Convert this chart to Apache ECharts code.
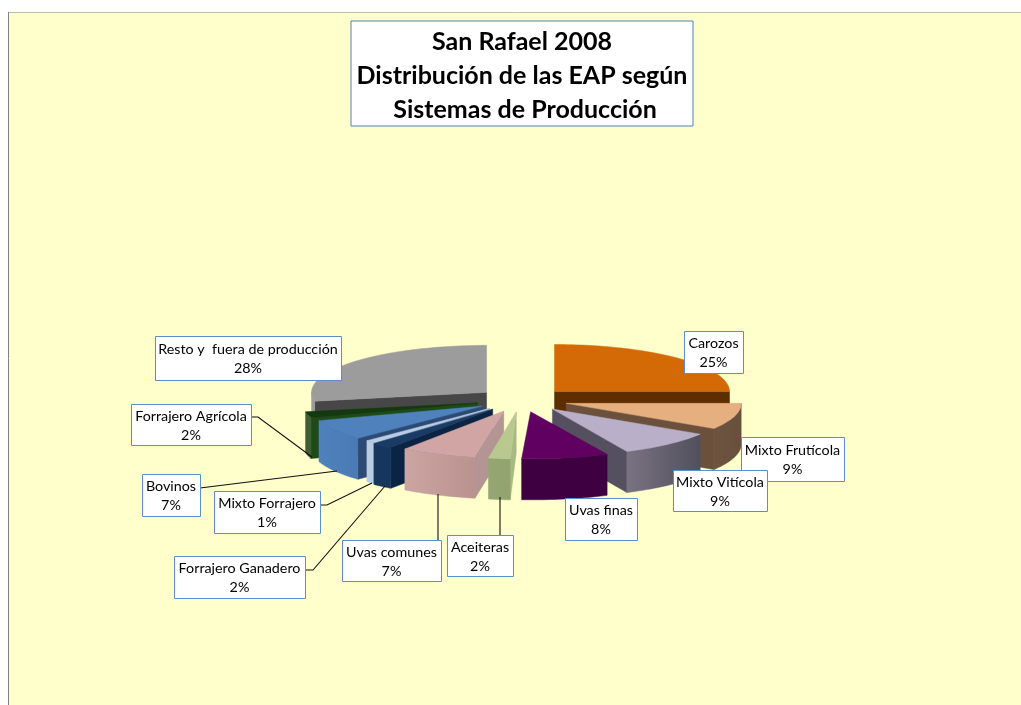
<!DOCTYPE html>
<html>
<head>
<meta charset="utf-8">
<title>San Rafael 2008</title>
<style>
html, body { margin: 0; padding: 0; background: #fff; }
#chart { width: 1021px; height: 705px; }
</style>
<script src="https://cdn.jsdelivr.net/npm/echarts@6/dist/echarts.min.js"></script>
</head>
<body>
<div id="chart"></div>
<script>
var titleLines = ['San Rafael 2008', 'Distribución de las EAP según', ' Sistemas de Producción'];

// clockwise from twelve o'clock
var categories = ['Carozos', 'Mixto Frutícola', 'Mixto Vitícola', 'Uvas finas', 'Aceiteras', 'Uvas comunes',
	'Forrajero Ganadero', 'Mixto Forrajero', 'Bovinos', 'Forrajero Agrícola', 'Resto y  fuera de producción'];
var values = [25, 9, 9, 8, 2, 7, 2, 1, 7, 2, 28];

var topColors = ['#D46A06', '#E6AF7F', '#B9AFC9', '#600060', '#B8C88F', '#D0A5A3', '#1A3B66', '#B8CCE4', '#4F81BD', '#14380F', '#9C9C9C'];
var wallLeft = ['#5F2E00', '#6E5440', '#7A7282', '#3E0040', '#95A673', '#CBA5A2', '#17365D', '#B8CCE4', '#4F81BD', '#3F5E36', '#9C9C9C'];
var wallRight = ['#5F2E00', '#66503C', '#50505C', '#3E0040', '#93A370', '#BA9390', '#17365D', '#B8CCE4', '#4A7AB4', '#3F5E36', '#9C9C9C'];
var cutColors = ['#5F2E00', '#6B503C', '#55505F', '#3E0040', '#A8B882', '#B39593', '#0C2444', '#8C9DB5', '#2C4A73', '#1E4A18', '#474747'];

// label boxes [left, top, right, bottom], same order as categories
var boxes = [[684, 331, 743, 373], [741, 437, 844, 481], [673, 470, 767, 511], [565, 498, 637, 540],
	[447, 535, 513, 576], [342, 540, 441, 581], [174, 556, 305, 598], [214, 491, 320, 533],
	[142, 474, 200, 516], [131, 404, 251, 445], [155, 336, 341, 380]];
var leaders = [null, null, null, null,
	[[500, 535], [500, 497]],
	[[438, 540], [438, 494]],
	[[305, 570], [313, 570], [385, 486]],
	[[320, 505], [327, 505], [372, 483]],
	[[200, 488], [337, 471]],
	[[251, 417], [258, 417], [312, 457]],
	null];
// the source view has a bit of perspective, rims of the front left slices sit further right
var rimShift = [0, 0, 0, 2, 5, 4, 1, 5, 3, 0, 0];

var CX = 522, CY = 400, RX = 175, RY = 47, EX = 46, EY = 12, DEPTH = 41;

var total = values.reduce(function (a, b) { return a + b; }, 0);
var starts = [], acc = 0;
values.forEach(function (v) { starts.push(acc / total * 360); acc += v; });

function rad(d) { return d * Math.PI / 180; }

function sliceShapes(i) {
	var a0 = starts[i], a1 = a0 + values[i] / total * 360, mid = (a0 + a1) / 2;
	var tip = [CX + EX * Math.sin(rad(mid)), CY - EY * Math.cos(rad(mid))];
	function rim(d, down) {
		return [tip[0] + rimShift[i] + RX * Math.sin(rad(d)), tip[1] - RY * Math.cos(rad(d)) + (down ? DEPTH : 0)];
	}
	function wall(d) {
		return [tip, rim(d), rim(d, true), [tip[0], tip[1] + DEPTH]];
	}
	var children = [];
	function add(points, fill) {
		children.push({ type: 'polygon', shape: { points: points }, style: { fill: fill, stroke: fill, lineWidth: 0.5 } });
	}
	if (Math.sin(rad(a1)) > 0.001) add(wall(a1), cutColors[i]);
	if (Math.sin(rad(a0)) < -0.001) add(wall(a0), cutColors[i]);
	var w0 = Math.max(a0, 90), w1 = Math.min(a1, 270);
	if (w1 > w0) {
		var up = [], low = [];
		for (var d = w0; d < w1; d += 1.5) { up.push(rim(d)); low.unshift(rim(d, true)); }
		up.push(rim(w1)); low.unshift(rim(w1, true));
		add(up.concat(low), new echarts.graphic.LinearGradient(0, 0, 1, 0, [
			{ offset: 0, color: wallLeft[i] }, { offset: 1, color: wallRight[i] }
		]));
	}
	var face = [tip];
	for (var t = a0; t < a1; t += 1.5) face.push(rim(t));
	face.push(rim(a1));
	add(face, topColors[i]);
	return children;
}

// back slices first so the nearer ones cover them
var drawOrder = values.map(function (v, i) { return i; }).sort(function (p, q) {
	var mp = starts[p] + values[p] / total * 180, mq = starts[q] + values[q] / total * 180;
	return Math.cos(rad(mq)) - Math.cos(rad(mp));
});

var graphics = [
	{ type: 'rect', silent: true, z: 0, shape: { x: 8, y: 12, width: 1013, height: 693 }, style: { fill: '#FFFFCC' } },
	{ type: 'line', silent: true, z: 0, shape: { x1: 8, y1: 12.5, x2: 1021, y2: 12.5 }, style: { stroke: '#BFBFB0', lineWidth: 1 } },
	{ type: 'line', silent: true, z: 0, shape: { x1: 8.5, y1: 12, x2: 8.5, y2: 705 }, style: { stroke: '#808080', lineWidth: 1 } },
	{ type: 'rect', silent: true, z: 5, shape: { x: 351, y: 21, width: 342, height: 105 }, style: { fill: '#fff', stroke: '#4F81BD', lineWidth: 1 } }
];
var titleY = [42, 76, 110];
titleLines.forEach(function (t, i) {
	graphics.push({ type: 'text', silent: true, z: 6, x: 522, y: titleY[i], style: {
		text: t, font: 'bold 25px Lato', fill: '#000', align: 'center', verticalAlign: 'middle'
	} });
});
leaders.forEach(function (pts) {
	if (pts) graphics.push({ type: 'polyline', silent: true, z: 5, shape: { points: pts }, style: { fill: 'none', stroke: '#111', lineWidth: 1.1 } });
});
boxes.forEach(function (b, i) {
	var mx = (b[0] + b[2]) / 2;
	graphics.push({ type: 'rect', silent: true, z: 5, shape: { x: b[0] + 0.5, y: b[1] + 0.5, width: b[2] - b[0], height: b[3] - b[1] },
		style: { fill: '#fff', stroke: '#5B8FCB', lineWidth: 1 } });
	graphics.push({ type: 'text', silent: true, z: 6, x: mx, y: (b[1] + b[3]) / 2 - 8.5, style: {
		text: categories[i], font: '14.3px Lato', fill: '#000', align: 'center', verticalAlign: 'middle' } });
	graphics.push({ type: 'text', silent: true, z: 6, x: mx, y: (b[1] + b[3]) / 2 + 10.5, style: {
		text: values[i] + '%', font: '14.3px Lato', fill: '#000', align: 'center', verticalAlign: 'middle' } });
});

var myChart = echarts.init(document.getElementById('chart'), null, { renderer: 'canvas' });
myChart.setOption({
	animation: false,
	backgroundColor: '#fff',
	graphic: graphics,
	series: [{
		type: 'custom',
		coordinateSystem: 'none',
		silent: true,
		z: 3,
		data: drawOrder.map(function (i) { return { name: categories[i], value: [i, values[i]] }; }),
		renderItem: function (params, api) {
			return { type: 'group', children: sliceShapes(api.value(0)) };
		}
	}]
});
</script>
</body>
</html>
